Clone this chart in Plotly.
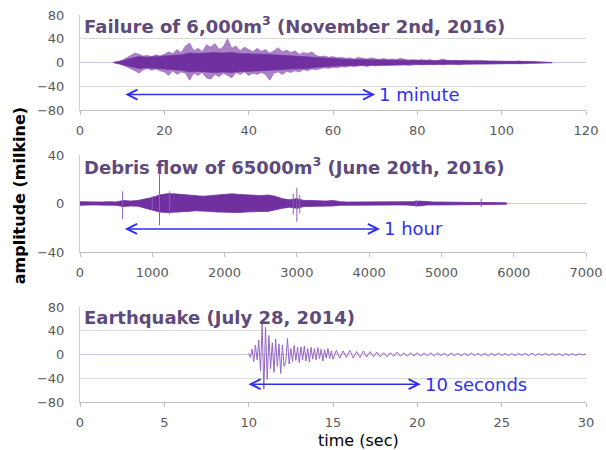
import numpy as np
import plotly.graph_objects as go

# ---------------- data ----------------
# Panel 1: failure of 6,000 m3 — envelope sampled every 1 s starting at 8 s
fail_t0, fail_dt = 8, 1
fail_upper = [0.5, 1, 4, 8, 12, 16, 14, 11, 12, 10, 13, 11, 14, 18, 15, 22, 17, 28, 33, 20,
              24, 18, 30, 26, 32, 22, 27, 40, 24, 28, 20, 26, 22, 18, 24, 19, 22, 16, 20, 25,
              18, 21, 17, 20, 14, 17, 15, 18, 12, 10, 11, 9, 10, 8, 9, 7, 8, 6, 9, 7,
              6, 8, 6, 5, 7, 5, 6, 5, 7, 5, 4, 5, 4, 5, 4, 5, 3, 4, 6, 4,
              3, 4, 3, 4, 3, 3, 4, 3, 3, 2.5, 3, 2.5, 2, 2.5, 2, 2, 3, 2, 2, 2,
              1.5, 1, 1, 0.5, 0.3]
fail_lower = [-0.5, -1, -4, -7, -10, -14, -18, -12, -10, -13, -11, -14, -16, -22, -14, -20, -16, -18, -30, -18,
              -22, -17, -26, -28, -20, -24, -18, -22, -26, -17, -20, -16, -22, -18, -20, -17, -20, -30, -18, -16,
              -20, -15, -17, -14, -16, -12, -14, -11, -12, -10, -9, -10, -8, -9, -7, -8, -6, -7, -6, -5,
              -7, -5, -6, -5, -4, -5, -4, -5, -4, -4, -5, -4, -3, -4, -4, -3, -4, -3, -4, -3,
              -3, -3, -4, -3, -3, -2.5, -3, -3, -2.5, -2, -3, -2, -2, -2, -2, -2, -2, -2.5, -1.5, -1.5,
              -1.5, -1, -1, -0.5, -0.3]
# dense core of the trace, half-width every 2 s from 8 s
fail_core_t0, fail_core_dt = 8, 2
fail_core = [0.5, 3, 7, 10, 9, 10, 11, 12, 13, 16, 15, 16, 17, 16, 17, 15, 15, 14, 14, 13,
             12, 11, 10, 10, 8, 7, 6, 5.5, 5, 5, 4.5, 4.5, 4, 4, 4, 3.5, 3.5, 3.5, 3, 3.5,
             3, 3, 2.5, 2.5, 2.5, 2.5, 2, 2, 2, 1.5, 1.2, 0.8, 0.3]

# Panel 2: debris flow of 65000 m3 — envelope every 100 s from 0 s
deb_t0, deb_dt = 0, 100
deb_upper = [1.5, 1.2, 1.5, 1.2, 1.5, 1.3, 2.5, 2, 2.5, 3.5, 5, 7, 8, 8, 7.5, 7, 6, 6, 6.5, 7,
             8, 8, 7.5, 7, 7, 6.5, 7, 6, 4, 3, 4, 2.5, 2.5, 2, 2, 2.5, 1.5, 1.2, 1.2, 1.2,
             1.5, 1.2, 1.2, 1.5, 1.2, 1.2, 1.5, 2, 1.5, 1.2, 1.2, 1.2, 1.2, 1, 1, 1.2, 1, 0.8, 0.8, 0.6]
deb_lower = [-1.5, -1.3, -1.2, -1.5, -1.2, -1.5, -2.5, -2, -2.2, -3.5, -5.5, -7, -7.5, -7, -7, -6.5, -6, -6, -6.5, -7,
             -7.5, -7.5, -7.5, -7, -6.5, -6.5, -6.5, -5.5, -4, -3, -4, -2.5, -2, -2, -2, -2, -1.5, -1.2, -1.2, -1.2,
             -1.2, -1.2, -1.2, -1.2, -1.2, -1.2, -1.5, -2, -1.2, -1.2, -1.2, -1.2, -1.2, -1, -1, -1, -1, -0.8, -0.8, -0.6]
deb_spike_t = [590, 1000, 1100, 1240, 2950, 3000, 3040, 4650, 5550]
deb_spike_hi = [10, 6, 24, 10, 8, 13, 7, 3, 4]
deb_spike_lo = [-13, -5, -18, -9, -9, -15, -8, -3, -3]

# Panel 3: earthquake — trace peaks every 0.1 s from 10 s, then every 0.2 s from 15.2 s
eq_a_t0, eq_a_dt = 10.0, 0.1
eq_a = [2, -5, 9, -12, 16, -9, 24, -28, 52, -58, 46, -42, 32, -24, 20, -30, 26, -20, 18, -32,
        16, -20, -12, 27, -16, 10, -12, 15, -10, 12, -14, 13, -9, 14, -11, 10, -13, 12, -8, 10,
        -9, 12, -7, 9, -11, 8, -6, 10, -7, 6, -8]
eq_b_t0, eq_b_dt = 15.2, 0.2
eq_b = [7, -6, 6, -5, 7, -6, 5, -5, 6, -4, 5, -4, 4, -4, 3, -4, 3, -3, 4, -3,
        3, -3, 3, -2.5, 3, -3, 2.5, -2.5, 3, -2.5, 2.5, -2, 2.5, -3, 2.5, -2, 2, -2.5, 2, -2,
        2.5, -2, 2, -2, 2, -2.5, 2, -2, 2.5, -2, 2, -2, 1.5, -2, 2, -1.5, 2, -2, 2.5, -2,
        1.5, -1.5, 2, -1.5, 1.5, -1.5, 1.5, -2, 1.5, -1.5, 1.5, -1.5, 1.5, -1, 1]

# axes / labels
titles = ["Failure of 6,000m<sup>3</sup> (November 2nd, 2016)",
          "Debris flow of 65000m<sup>3</sup> (June 20th, 2016)",
          "Earthquake (July 28, 2014)"]
x_ranges = [[0, 120], [0, 7000], [0, 30]]
x_ticks = [[0, 20, 40, 60, 80, 100, 120], [0, 1000, 2000, 3000, 4000, 5000, 6000, 7000],
           [0, 5, 10, 15, 20, 25, 30]]
y_ranges = [[-80, 80], [-40, 40], [-80, 80]]
y_ticks = [[-80, -40, 0, 40, 80], [-40, 0, 40], [-80, -40, 0, 40, 80]]
span_labels = ["1 minute", "1 hour", "10 seconds"]
span_start = [10.4, 600, 9.9]
span_end = [70, 4150, 20.2]
span_y = [-54, -21, -50]

# ---------------- styles ----------------
PURPLE = "#7030a0"
TITLE_C = "#5f4a7c"
BLUE = "#2f2ff0"
TICK_C = "#595959"
GRID_C = "#d9d9d9"

fig = go.Figure()

# panel 1
t = fail_t0 + fail_dt * np.arange(len(fail_upper))
tl = fail_t0 + fail_dt * np.arange(len(fail_lower))
fig.add_trace(go.Scatter(x=np.concatenate([t, tl[::-1]]),
                         y=np.concatenate([fail_upper, np.array(fail_lower)[::-1]]),
                         fill="toself", fillcolor="rgba(112,48,160,0.6)", mode="lines",
                         line=dict(color="rgba(112,48,160,0.6)", width=0.6),
                         xaxis="x", yaxis="y", hoverinfo="skip"))
tc = fail_core_t0 + fail_core_dt * np.arange(len(fail_core))
core = np.array(fail_core)
fig.add_trace(go.Scatter(x=np.concatenate([tc, tc[::-1]]),
                         y=np.concatenate([core, -core[::-1]]),
                         fill="toself", fillcolor=PURPLE, mode="lines",
                         line=dict(color=PURPLE, width=0.6),
                         xaxis="x", yaxis="y", hoverinfo="skip"))

# panel 2
t2 = deb_t0 + deb_dt * np.arange(len(deb_upper))
t2l = deb_t0 + deb_dt * np.arange(len(deb_lower))
fig.add_trace(go.Scatter(x=np.concatenate([t2, t2l[::-1]]),
                         y=np.concatenate([deb_upper, np.array(deb_lower)[::-1]]),
                         fill="toself", fillcolor=PURPLE, mode="lines",
                         line=dict(color=PURPLE, width=0.8),
                         xaxis="x2", yaxis="y2", hoverinfo="skip"))
sx, sy = [], []
for ts, hi, lo in zip(deb_spike_t, deb_spike_hi, deb_spike_lo):
    sx += [ts, ts, None]
    sy += [lo, hi, None]
fig.add_trace(go.Scatter(x=sx, y=sy, mode="lines", line=dict(color="#8a5cb8", width=1),
                         xaxis="x2", yaxis="y2", hoverinfo="skip"))

# panel 3
ta = eq_a_t0 + eq_a_dt * np.arange(len(eq_a))
tb = eq_b_t0 + eq_b_dt * np.arange(len(eq_b))
fig.add_trace(go.Scatter(x=np.concatenate([ta, tb]), y=np.concatenate([eq_a, eq_b]),
                         mode="lines", line=dict(color="#9467c4", width=1),
                         xaxis="x3", yaxis="y3", hoverinfo="skip"))

domains = [[0.7545, 1.0], [0.3876, 0.6382], [0.0, 0.2455]]
layout = dict(width=606, height=450, margin=dict(l=80, r=20, t=15, b=48, autoexpand=False),
              plot_bgcolor="white", paper_bgcolor="white", showlegend=False,
              font=dict(family="DejaVu Sans", color=TICK_C))
annotations = []
for i in range(3):
    sfx = "" if i == 0 else str(i + 1)
    layout["xaxis" + sfx] = dict(domain=[0, 1], range=x_ranges[i], tickvals=x_ticks[i],
                                 anchor="y" + sfx, showgrid=False, zeroline=False,
                                 showline=True, linecolor="#bfbfbf", linewidth=1,
                                 ticks="outside", ticklen=4, tickcolor="#bfbfbf",
                                 ticklabelstandoff=4, automargin=False,
                                 tickfont=dict(size=13, color=TICK_C, family="DejaVu Sans"))
    layout["yaxis" + sfx] = dict(domain=domains[i], range=y_ranges[i], tickvals=y_ticks[i],
                                 anchor="x" + sfx, showgrid=True, gridcolor=GRID_C, gridwidth=1,
                                 zeroline=True, zerolinecolor="#d4c4e6", zerolinewidth=1,
                                 showline=True, linecolor="#d0d0d0", linewidth=1,
                                 ticks="", ticklabelstandoff=12, automargin=False,
                                 tickfont=dict(size=13, color=TICK_C, family="DejaVu Sans"))
    yref_d = "y" + sfx + " domain"
    xref_d = "x" + sfx + " domain"
    annotations.append(dict(text=titles[i], xref=xref_d, yref=yref_d, x=0.004, y=0.89,
                            xanchor="left", yanchor="middle", showarrow=False,
                            font=dict(size=18, color=TITLE_C, family="DejaVu Sans", weight="bold")))
    annotations.append(dict(x=span_end[i], y=span_y[i], ax=span_start[i], ay=span_y[i],
                            xref="x" + sfx, yref="y" + sfx, axref="x" + sfx, ayref="y" + sfx,
                            text="", showarrow=True, arrowhead=5, startarrowhead=5,
                            arrowside="end+start", arrowsize=1.4, startarrowsize=1.4,
                            arrowwidth=1.4, arrowcolor=BLUE))
    annotations.append(dict(text=span_labels[i], x=span_end[i], y=span_y[i],
                            xref="x" + sfx, yref="y" + sfx, xanchor="left", yanchor="middle",
                            xshift=2, showarrow=False,
                            font=dict(size=18, color=BLUE, family="DejaVu Sans")))

annotations.append(dict(text="amplitude (milkine)", xref="paper", yref="paper",
                        x=-0.12, y=(450 - 48 - 196) / 387, xanchor="center", yanchor="middle",
                        textangle=-90, showarrow=False,
                        font=dict(size=16, color="black", family="DejaVu Sans", weight="bold")))
annotations.append(dict(text="time (sec)", xref="paper", yref="paper",
                        x=(358 - 80) / 506, y=-(440 - 402) / 387, xanchor="center", yanchor="middle",
                        showarrow=False, font=dict(size=16, color="black", family="DejaVu Sans")))
layout["annotations"] = annotations
fig.update_layout(**layout)
fig.write_html("out.html", config={"displayModeBar": False},
               post_script="document.body.style.margin='0';document.body.style.padding='0';")
